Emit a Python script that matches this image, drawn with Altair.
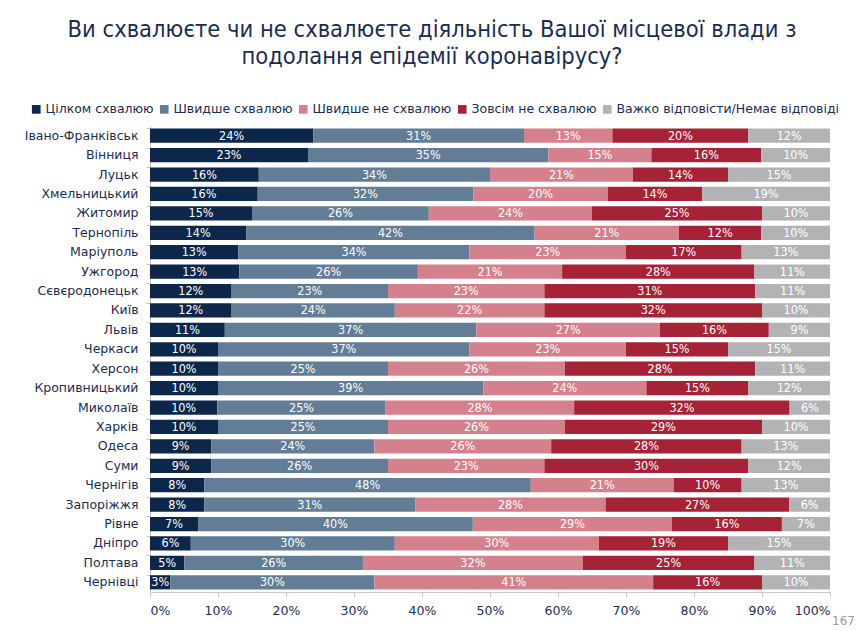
import altair as alt
import pandas as pd

cities = ["Івано-Франківськ", "Вінниця", "Луцьк", "Хмельницький", "Житомир", "Тернопіль",
          "Маріуполь", "Ужгород", "Сєвєродонецьк", "Київ", "Львів", "Черкаси", "Херсон",
          "Кропивницький", "Миколаїв", "Харків", "Одеса", "Суми", "Чернігів", "Запоріжжя",
          "Рівне", "Дніпро", "Полтава", "Чернівці"]
categories = ["Цілком схвалюю", "Швидше схвалюю", "Швидше не схвалюю",
              "Зовсім не схвалюю", "Важко відповісти/Немає відповіді"]
fully = [24, 23, 16, 16, 15, 14, 13, 13, 12, 12, 11, 10, 10, 10, 10, 10, 9, 9, 8, 8, 7, 6, 5, 3]
rather = [31, 35, 34, 32, 26, 42, 34, 26, 23, 24, 37, 37, 25, 39, 25, 25, 24, 26, 48, 31, 40, 30, 26, 30]
rather_not = [13, 15, 21, 20, 24, 21, 23, 21, 23, 22, 27, 23, 26, 24, 28, 26, 26, 23, 21, 28, 29, 30, 32, 41]
not_at_all = [20, 16, 14, 14, 25, 12, 17, 28, 31, 32, 16, 15, 28, 15, 32, 29, 28, 30, 10, 27, 16, 19, 25, 16]
hard = [12, 10, 15, 19, 10, 10, 13, 11, 11, 10, 9, 15, 11, 12, 6, 10, 13, 12, 13, 6, 7, 15, 11, 10]
colors = ["#0c2749", "#627d95", "#d5808d", "#a62236", "#b3b3b5"]
x_ticks = [0, 0.1, 0.2, 0.3, 0.4, 0.5, 0.6, 0.7, 0.8, 0.9, 1.0]
page_number = ["167"]

series = [fully, rather, rather_not, not_at_all, hard]
rows = []
for i, c in enumerate(cities):
    for j, cat in enumerate(categories):
        rows.append({"city": c, "cat": cat, "order": j, "value": series[j][i]})
df = pd.DataFrame(rows)

NAVY = "#1b2c4f"
SANS = "DejaVu Sans, Verdana, sans-serif"
COND = "DejaVu Sans Condensed, Liberation Sans Narrow, Roboto Condensed, DejaVu Sans"

base = alt.Chart(df).transform_stack(
    stack="value", groupby=["city"], as_=["x0", "x1"], offset="normalize",
    sort=[alt.SortField("order", order="ascending")]
).transform_calculate(
    mid="(datum.x0 + datum.x1) / 2", label="datum.value + '%'"
)

yenc = alt.Y("city:N", sort=cities, title=None,
             scale=alt.Scale(paddingInner=0.27, paddingOuter=0.135),
             axis=alt.Axis(labelFont=SANS, labelFontSize=12.5, labelColor=NAVY,
                           domainColor="#c8c8c8", tickColor="#c8c8c8", tickSize=4,
                           bandPosition=0, labelPadding=8, grid=False))

bars = base.mark_bar().encode(
    y=yenc,
    x=alt.X("x0:Q", title=None,
            scale=alt.Scale(domain=[0, 1], nice=False, zero=True),
            axis=alt.Axis(format=".0%", values=x_ticks, labelFont=SANS, labelFontSize=12.5,
                          labelColor=NAVY, domainColor="#c8c8c8", tickColor="#c8c8c8",
                          tickSize=5, labelPadding=7, grid=False)),
    x2="x1:Q",
    color=alt.Color("cat:N", scale=alt.Scale(domain=categories, range=colors),
                    legend=alt.Legend(title=None, orient="none", direction="horizontal",
                                      columns=5, legendX=-120, legendY=-23,
                                      symbolType="square", symbolSize=75,
                                      symbolStrokeWidth=0, labelFont=SANS,
                                      labelFontSize=12.5, labelColor=NAVY,
                                      labelLimit=400, columnPadding=4, labelOffset=3)),
)

text = base.mark_text(color="white", font=COND, fontSize=12.5, baseline="middle").encode(
    y=alt.Y("city:N", sort=cities),
    x=alt.X("mid:Q"),
    text="label:N",
)

page = alt.Chart(pd.DataFrame({"t": page_number})).mark_text(
    color="#9a9a9a", fontSize=12, font=SANS, align="right"
).encode(x=alt.value(705), y=alt.value(495), text="t:N")

chart = alt.layer(bars, text, page).properties(
    width=680, height=466,
    padding={"left": 142, "top": 118, "right": 24, "bottom": 38},
    autosize=alt.AutoSizeParams(type="none"),
    title=alt.TitleParams(
        ["Ви схвалюєте чи не схвалюєте діяльність Вашої місцевої влади з",
         "подолання епідемії коронавірусу?"],
        font=COND, fontSize=23.5, fontWeight="normal", color=NAVY,
        anchor="middle", frame="group", dx=-58, offset=35, lineHeight=27),
).configure_view(stroke=None)

chart.save("out.html", embed_options={"renderer": "svg", "actions": False})
